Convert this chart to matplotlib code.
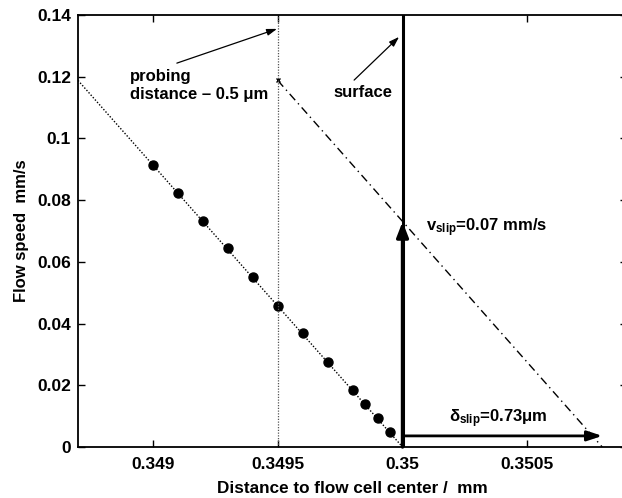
import numpy as np
import matplotlib.pyplot as plt

plt.rcParams['font.family'] = ['Liberation Sans', 'DejaVu Sans']
plt.rcParams['font.weight'] = 'bold'
plt.rcParams['mathtext.fontset'] = 'custom'
plt.rcParams['mathtext.rm'] = 'Liberation Sans:bold'
plt.rcParams['mathtext.it'] = 'Liberation Sans:bold'

# measured points (mm, mm/s)
dist = [0.349, 0.3491, 0.3492, 0.3493, 0.3494, 0.3495, 0.3496, 0.3497,
        0.3498, 0.34985, 0.3499, 0.34995]
speed = [0.0914, 0.0823, 0.0732, 0.0645, 0.0551, 0.0457, 0.0369, 0.0275,
         0.0185, 0.0139, 0.0094, 0.0049]

# fitted profile and shifted (slip) profile
fit_x = [0.3487, 0.35]
fit_y = [0.1188, 0.0]
slip_x = [0.3495, 0.3508]
slip_y = [0.1188, 0.0]

surface = 0.35
probe = 0.3495
v_slip = 0.073
d_slip_end = 0.3508

fig = plt.figure(figsize=(6.22, 4.98), dpi=100)
ax = fig.add_axes([0.1254, 0.1024, 0.883, 0.8675])

ax.plot(fit_x, fit_y, color='black', linestyle=(0, (1, 1.3)), lw=1.0)
ax.plot(dist, speed, 'o', color='black', ms=6.5)
ax.plot(slip_x, slip_y, color='black', linestyle=(0, (6, 3, 1, 3)), lw=1.0)
ax.plot([slip_x[0]], [slip_y[0]], 'x', color='black', ms=3.5, mew=1)

ax.axvline(probe, color='#555555', linestyle=(0, (1, 1.2)), lw=0.9)
ax.axvline(surface, color='black', lw=2.2)

ax.annotate('', xy=(surface, v_slip), xytext=(surface, 0),
            arrowprops=dict(arrowstyle='-|>,head_length=0.9,head_width=0.35',
                            color='black', lw=2.5, shrinkA=0, shrinkB=0))
ax.annotate('', xy=(d_slip_end, 0.0036), xytext=(surface, 0.0036),
            arrowprops=dict(arrowstyle='-|>,head_length=0.9,head_width=0.3',
                            color='black', lw=2.0, shrinkA=0, shrinkB=0))

# pointer arrows
ax.annotate('', xy=(0.349497, 0.1355), xytext=(0.349096, 0.1244),
            arrowprops=dict(arrowstyle='-|>,head_length=0.6,head_width=0.2',
                            color='black', lw=0.9, shrinkA=0, shrinkB=0))
ax.annotate('', xy=(0.349986, 0.1329), xytext=(0.349806, 0.1189),
            arrowprops=dict(arrowstyle='-|>,head_length=0.6,head_width=0.2',
                            color='black', lw=0.9, shrinkA=0, shrinkB=0))

ax.text(0.348908, 0.1173, 'probing\ndistance \u2013 0.5 \u03bcm', fontsize=12,
        fontweight='bold', ha='left', va='center', linespacing=1.25)
ax.text(0.349722, 0.1150, 'surface', fontsize=12, fontweight='bold',
        ha='left', va='center')
ax.text(0.350095, 0.071, r'v$_{\mathrm{slip}}$=0.07 mm/s', fontsize=12,
        fontweight='bold', ha='left', va='center')
ax.text(0.350187, 0.0091, '\u03b4$_{\\mathrm{slip}}$=0.73\u03bcm', fontsize=12,
        fontweight='bold', ha='left', va='center')

ax.set_xlim(0.3487, 0.3509)
ax.set_ylim(0, 0.14)
ax.set_xticks([0.349, 0.3495, 0.35, 0.3505])
ax.set_xticklabels(['0.349', '0.3495', '0.35', '0.3505'])
ax.set_yticks([0, 0.02, 0.04, 0.06, 0.08, 0.1, 0.12, 0.14])
ax.set_yticklabels(['0', '0.02', '0.04', '0.06', '0.08', '0.1', '0.12', '0.14'])
ax.tick_params(direction='in', top=True, right=True, labelsize=12.5,
               length=5, width=1, pad=5)
ax.tick_params(axis='x', pad=7)
for lab in ax.get_xticklabels() + ax.get_yticklabels():
    lab.set_fontweight('bold')
for s in ax.spines.values():
    s.set_linewidth(1.3)

ax.set_xlabel('Distance to flow cell center /  mm', fontsize=12.3,
              fontweight='bold', labelpad=7)
ax.set_ylabel('Flow speed  mm/s', fontsize=12, fontweight='bold', labelpad=6)

fig.savefig('out.png', dpi=100)
